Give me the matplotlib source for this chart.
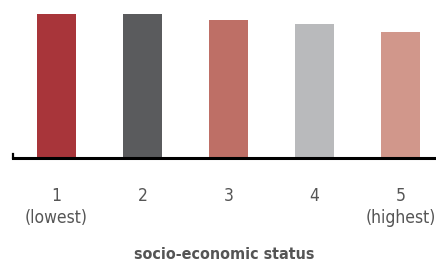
import matplotlib
matplotlib.use("Agg")
import matplotlib.pyplot as plt

plt.rcParams['font.family'] = ['DejaVu Sans']
plt.rcParams['font.stretch'] = 'condensed'

categories = ["1\n(lowest)", "2", "3", "4", "5\n(highest)"]
values = [73, 73, 70, 68, 64]
colors = ["#A8353A", "#5A5B5D", "#BE6F66", "#B9BABC", "#D1978B"]
xlabel = "socio-economic status"

fig = plt.figure(figsize=(4.36, 2.63), dpi=100)
ax = fig.add_axes([13/436, (263-158)/263, 1-13/436, 158/263])
x = list(range(len(values)))
ax.bar(x, values, width=0.45, color=colors)
ax.set_xlim(-0.506, 4.413)
ax.set_ylim(0, 80)
for s in ["top", "right"]:
    ax.spines[s].set_visible(False)
ax.spines["bottom"].set_linewidth(2.2)
ax.spines["left"].set_linewidth(1.6)
ax.spines["left"].set_bounds(0, 2.2)
ax.set_yticks([])
ax.set_xticks(x)
ax.set_xticklabels(categories, fontsize=12.5, color="#555555", linespacing=1.3,
                   fontstretch='condensed')
ax.tick_params(axis="x", length=0, pad=21)
ax.set_xlabel(xlabel, fontsize=11.5, fontweight="bold", color="#555555", labelpad=14,
              fontstretch='condensed')
fig.savefig("out.png", dpi=100)
